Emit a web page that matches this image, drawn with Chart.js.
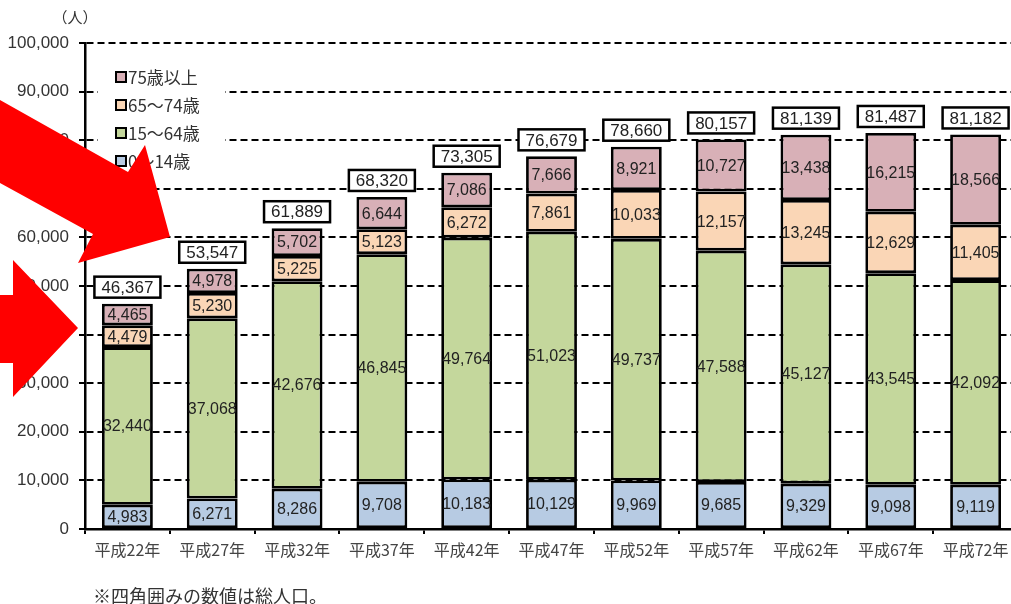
<!DOCTYPE html>
<html>
<head>
<meta charset="utf-8">
<script src="https://cdn.jsdelivr.net/npm/chart.js@4.4.1/dist/chart.umd.min.js"></script>
<style>
html,body{margin:0;padding:0;background:#fff;overflow:hidden;width:1011px;height:604px;}
#wrap{position:absolute;left:0;top:0;width:1018px;height:604px;}
</style>
</head>
<body>
<div id="wrap"><canvas id="c"></canvas></div>
<script>
const categories = ['平成22年','平成27年','平成32年','平成37年','平成42年','平成47年','平成52年','平成57年','平成62年','平成67年','平成72年'];
const age0to14 = [4983,6271,8286,9708,10183,10129,9969,9685,9329,9098,9119];
const age15to64 = [32440,37068,42676,46845,49764,51023,49737,47588,45127,43545,42092];
const age65to74 = [4479,5230,5225,5123,6272,7861,10033,12157,13245,12629,11405];
const age75plus = [4465,4978,5702,6644,7086,7666,8921,10727,13438,16215,18566];
const totals = [46367,53547,61889,68320,73305,76679,78660,80157,81139,81487,81182];
const yTicks = [0,10000,20000,30000,40000,50000,60000,70000,80000,90000,100000];

const NUM_FONT = '"Liberation Sans", Arial, sans-serif';
const JP_FONT = '"Noto Sans CJK JP", sans-serif';
const fmt = v => v.toLocaleString('en-US');

const segLabels = {
  id:'segLabels',
  afterDatasetsDraw(chart){
    const ctx = chart.ctx;
    ctx.save();
    ctx.font = '16px ' + NUM_FONT;
    ctx.fillStyle = '#222';
    ctx.textAlign = 'center';
    ctx.textBaseline = 'middle';
    chart.data.datasets.forEach((ds, di) => {
      const meta = chart.getDatasetMeta(di);
      meta.data.forEach((el, i) => {
        const cy = (el.y + el.base) / 2;
        ctx.fillText(fmt(ds.data[i]), el.x, cy + 1);
      });
    });
    const topMeta = chart.getDatasetMeta(chart.data.datasets.length - 1);
    ctx.font = '17px ' + NUM_FONT;
    topMeta.data.forEach((el, i) => {
      const t = fmt(totals[i]);
      const w = ctx.measureText(t).width + 14;
      const h = 21;
      const by = el.y - 6 - h;
      ctx.fillStyle = '#fff';
      ctx.fillRect(el.x - w/2, by, w, h);
      ctx.lineWidth = 2.5;
      ctx.strokeStyle = '#000';
      ctx.strokeRect(el.x - w/2, by, w, h);
      ctx.fillStyle = '#222';
      ctx.fillText(t, el.x, by + h/2 + 1);
    });
    ctx.restore();
  }
};

const extras = {
  id:'extras',
  afterDraw(chart){
    const ctx = chart.ctx;
    const ca = chart.chartArea;
    ctx.save();
    const lx = ca.left + 13, ly = ca.top + 20;
    ctx.fillStyle = '#fff';
    ctx.fillRect(lx, ly, 127, 110);
    const order = chart.data.datasets.slice().reverse();
    ctx.font = '17px ' + JP_FONT;
    ctx.textBaseline = 'middle';
    ctx.textAlign = 'left';
    order.forEach((ds, k) => {
      const yy = ly + 14 + k * 28;
      ctx.fillStyle = ds.backgroundColor;
      ctx.fillRect(lx + 18, yy - 5, 10, 10);
      ctx.lineWidth = 2;
      ctx.strokeStyle = '#000';
      ctx.strokeRect(lx + 18, yy - 5, 10, 10);
      ctx.fillStyle = '#333';
      ctx.fillText(ds.label, lx + 30, yy + 1);
    });
    ctx.font = '15px ' + JP_FONT;
    ctx.fillStyle = '#333';
    ctx.textAlign = 'center';
    ctx.fillText('（人）', 75, 17);
    ctx.textAlign = 'left';
    ctx.font = '18px ' + JP_FONT;
    ctx.fillText('※四角囲みの数値は総人口。', 93, 596);
    ctx.fillStyle = '#ff0000';
    ctx.beginPath();
    ctx.moveTo(0,100); ctx.lineTo(128,172); ctx.lineTo(145,145); ctx.lineTo(170,237);
    ctx.lineTo(78,263); ctx.lineTo(93,234); ctx.lineTo(0,183); ctx.closePath(); ctx.fill();
    ctx.beginPath();
    ctx.moveTo(0,295); ctx.lineTo(13,295); ctx.lineTo(13,260); ctx.lineTo(78,328);
    ctx.lineTo(13,397); ctx.lineTo(13,363); ctx.lineTo(0,363); ctx.closePath(); ctx.fill();
    ctx.restore();
  }
};

const mk = (label, data, color) => ({
  label, data, backgroundColor: color, borderColor:'#000', borderWidth:2.8,
  borderSkipped:false, barPercentage:0.6, categoryPercentage:1.0
});

new Chart(document.getElementById('c'), {
  type:'bar',
  data:{
    labels: categories,
    datasets:[
      mk('0～14歳', age0to14, '#B7CBE3'),
      mk('15～64歳', age15to64, '#C4D79C'),
      mk('65～74歳', age65to74, '#FAD6B6'),
      mk('75歳以上', age75plus, '#D8B0B7')
    ]
  },
  options:{
    responsive:true, maintainAspectRatio:false, animation:false,
    layout:{padding:{top:43, left:0, right:0, bottom:0}},
    plugins:{legend:{display:false}, tooltip:{enabled:false}, title:{display:false}},
    scales:{
      x:{
        stacked:true,
        grid:{drawOnChartArea:false, drawTicks:true, tickLength:5, color:'#000', lineWidth:2, offset:true},
        border:{display:true, color:'#000', width:2.5},
        ticks:{font:{family:JP_FONT, size:16}, color:'#444', padding:6, maxRotation:0, autoSkip:false},
        afterFit(s){ s.height = 75; }
      },
      y:{
        stacked:true, min:0, max:100000,
        afterBuildTicks(s){ s.ticks = yTicks.map(v => ({value:v})); },
        grid:{color:'#000', lineWidth:2, drawTicks:true, tickLength:6, tickBorderDash:[], tickWidth:2, tickColor:'#000'},
        border:{display:true, color:'#000', width:2.5, dash:[7,4]},
        ticks:{font:{family:NUM_FONT, size:17}, color:'#333', padding:10, callback:v => fmt(v)},
        afterFit(s){ s.width = 85; }
      }
    }
  },
  plugins:[segLabels, extras]
});
</script>
</body>
</html>
